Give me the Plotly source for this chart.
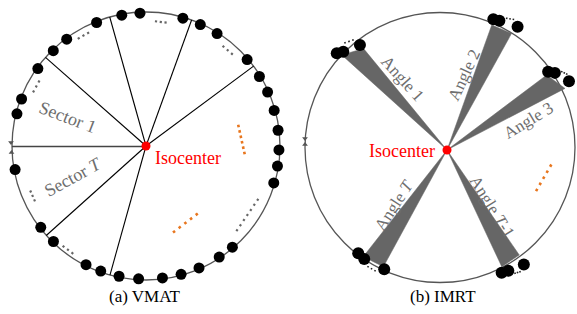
import numpy as np
import plotly.graph_objects as go

W, H = 577, 314
FONT = "Liberation Serif, Times New Roman, serif"

# ---------------- panel (a) VMAT ----------------
VMAT_CENTER = (146.0, 146.0)
VMAT_RADIUS = 134.0
VMAT_DOT_ANGLES = [100.5, 92.6, 73.9, 65.9, 57.7, 40.5, 31.5, 23.9, 15.5, 6.8, -1.7, -8.7, -16.1,
                   -49.5, -56.6, -66.5, -74.7, -82.9, -93.2, -101.7, -109.9, -116.8, -134.1, -142.3,
                   -169.8, 166.0, 159.3, 144.4, 134.2, 126.6, 111.8]
VMAT_SECTOR_LINES = [105.7, 70.1, 36.6, 138.6, -138.1, -105.6]
VMAT_ZERO_LINE = [180.0]
VMAT_GAP_FIRST = [85.4, 122.0, 52.1, 148.9, -158.5, -129.4, -42.8]
VMAT_GAP_LAST = [81.0, 117.1, 47.0, 154.1, -154.0, -124.5, -25.7]
VMAT_GAP_COUNT = [3, 3, 3, 3, 3, 3, 7]
VMAT_GAP_RADIUS = [125, 127, 126, 125, 124, 130, 124]
VMAT_ORANGE_FIRST = [(12.2, 94.6), (-71.9, 90.2)]
VMAT_ORANGE_LAST = [(-4.1, 98.7), (-53.4, 85.1)]
VMAT_ORANGE_COUNT = [6, 5]

# ---------------- panel (b) IMRT ----------------
IMRT_CENTER = (440.0, 147.5)
IMRT_RADIUS = 135.0
IMRT_ISO = (447.0, 150.0)
IMRT_LABELS = ["Angle 1", "Angle 2", "Angle 3", "Angle <i>T</i>-1", "Angle <i>T</i>"]
# wedge end corners (angle deg, radius) around the gantry circle centre
IMRT_WEDGE_A = [(136.7, 135), (67.1, 133), (34.2, 129), (-53.6, 133.6), (-115.4, 132)]
IMRT_WEDGE_B = [(127.7, 125), (57.9, 134.8), (25.3, 138.3), (-62.6, 134.2), (-125.1, 133.4)]
# control-point dots at the end of each beam (angle deg, radius)
IMRT_DOTS = [
    [(137.6, 139.8), (135.3, 136.1), (128.0, 130.0)],
    [(67.4, 138.8), (64.9, 140.0), (57.3, 143.6)],
    [(35.0, 132.0), (33.0, 137.0), (27.2, 145.0)],
    [(-63.8, 139.6), (-61.0, 140.9), (-54.4, 144.0)],
    [(-127.7, 133.7), (-124.2, 134.8), (-114.6, 134.0)],
]
IMRT_ELLIPSIS = [
    [(132.2, 141.4), (129.0, 138.3)],
    [(62.7, 145.4), (60.2, 147.7)],
    [(31.9, 143.4), (30.1, 146.5)],
    [(-59.2, 146.5), (-57.2, 147.7)],
    [(-121.1, 139.3), (-117.8, 139.3)],
]
IMRT_LABEL_POS = [(402.5, 78), (463.8, 75.2), (528.3, 120), (492, 206), (394, 205.5)]
IMRT_LABEL_ROT = [48, -65, -31, 58, -57]
IMRT_ORANGE_FIRST = [(-23.7, 105.6)]
IMRT_ORANGE_LAST = [(-9.3, 112.2)]
IMRT_ORANGE_COUNT = [5]

GRAY = "#666666"
TEXT_GRAY = "#6e6e6e"
CIRCLE = "#555555"
ORANGE = "#E8761E"


def pol(c, ang, r):
    a = np.deg2rad(ang)
    return c[0] + r * np.cos(a), c[1] - r * np.sin(a)


fig = go.Figure()


def dotted(p0, p1, n, d, color):
    p0 = np.array(p0, float)
    p1 = np.array(p1, float)
    L = np.linalg.norm(p1 - p0)
    u = (p1 - p0) / L
    s = L / (n - 1)
    a = p0 - u * d / 2
    b = p1 + u * d / 2
    fig.add_trace(go.Scatter(x=[a[0], b[0]], y=[a[1], b[1]], mode="lines",
                             line=dict(color=color, width=d, dash=f"{d}px,{s - d:.2f}px"),
                             hoverinfo="skip", showlegend=False))


shapes = []
for c, r in [(VMAT_CENTER, VMAT_RADIUS), (IMRT_CENTER, IMRT_RADIUS)]:
    shapes.append(dict(type="circle", xref="x", yref="y", x0=c[0] - r, x1=c[0] + r,
                       y0=c[1] - r, y1=c[1] + r, line=dict(color=CIRCLE, width=1.3), layer="below"))

# --- VMAT sector lines ---
for ang in VMAT_SECTOR_LINES:
    x1, y1 = pol(VMAT_CENTER, ang, VMAT_RADIUS)
    fig.add_trace(go.Scatter(x=[VMAT_CENTER[0], x1], y=[VMAT_CENTER[1], y1], mode="lines",
                             line=dict(color="black", width=1.1), hoverinfo="skip", showlegend=False))
for ang in VMAT_ZERO_LINE:
    x1, y1 = pol(VMAT_CENTER, ang, VMAT_RADIUS)
    fig.add_trace(go.Scatter(x=[VMAT_CENTER[0], x1], y=[VMAT_CENTER[1] + 0.5, y1 + 0.5], mode="lines",
                             line=dict(color="#444444", width=1.5), hoverinfo="skip", showlegend=False))

# gray ellipses
for a0, a1, n, r in zip(VMAT_GAP_FIRST, VMAT_GAP_LAST, VMAT_GAP_COUNT, VMAT_GAP_RADIUS):
    dotted(pol(VMAT_CENTER, a0, r), pol(VMAT_CENTER, a1, r), n, 2.2, GRAY)

# orange ellipses
for (a0, r0), (a1, r1), n in zip(VMAT_ORANGE_FIRST, VMAT_ORANGE_LAST, VMAT_ORANGE_COUNT):
    dotted(pol(VMAT_CENTER, a0, r0), pol(VMAT_CENTER, a1, r1), n, 2.6, ORANGE)
for (a0, r0), (a1, r1), n in zip(IMRT_ORANGE_FIRST, IMRT_ORANGE_LAST, IMRT_ORANGE_COUNT):
    dotted(pol(IMRT_CENTER, a0, r0), pol(IMRT_CENTER, a1, r1), n, 2.6, ORANGE)

# VMAT dots
vx, vy = zip(*[pol(VMAT_CENTER, a, VMAT_RADIUS - 1) for a in VMAT_DOT_ANGLES])
fig.add_trace(go.Scatter(x=vx, y=vy, mode="markers",
                         marker=dict(color="black", size=11, line=dict(width=0)),
                         hoverinfo="skip", showlegend=False))

# --- IMRT wedges ---
dots_x, dots_y = [], []
for wa, wb, dots, ell in zip(IMRT_WEDGE_A, IMRT_WEDGE_B, IMRT_DOTS, IMRT_ELLIPSIS):
    c1 = pol(IMRT_CENTER, *wa)
    c2 = pol(IMRT_CENTER, *wb)
    fig.add_trace(go.Scatter(x=[IMRT_ISO[0], c1[0], c2[0], IMRT_ISO[0]],
                             y=[IMRT_ISO[1], c1[1], c2[1], IMRT_ISO[1]],
                             mode="lines", fill="toself", fillcolor=GRAY,
                             line=dict(color=GRAY, width=0.5), hoverinfo="skip", showlegend=False))
    dotted(pol(IMRT_CENTER, *ell[0]), pol(IMRT_CENTER, *ell[1]), 3, 1.6, "#222222")
    for a, r in dots:
        x, y = pol(IMRT_CENTER, a, r)
        dots_x.append(x)
        dots_y.append(y)
fig.add_trace(go.Scatter(x=dots_x, y=dots_y, mode="markers",
                         marker=dict(color="black", size=12, line=dict(width=0)),
                         hoverinfo="skip", showlegend=False))

# small arrowheads on circles
fig.add_trace(go.Scatter(x=[11, 11.5, 305, 305], y=[142.5, 152.5, 138.5, 144.5], mode="markers",
                         marker=dict(color=CIRCLE, size=5,
                                     symbol=["triangle-down", "triangle-up", "triangle-down", "triangle-up"]),
                         hoverinfo="skip", showlegend=False))

# isocenters
fig.add_trace(go.Scatter(x=[VMAT_CENTER[0], IMRT_ISO[0]], y=[VMAT_CENTER[1], IMRT_ISO[1]], mode="markers",
                         marker=dict(color="#FF0000", size=9, line=dict(width=0)),
                         hoverinfo="skip", showlegend=False))

ann = []
ann.append(dict(x=153, y=158, text="Isocenter", xanchor="left", yanchor="middle",
                font=dict(family=FONT, size=18, color="#FF0000"), showarrow=False))
ann.append(dict(x=437, y=151, text="Isocenter", xanchor="right", yanchor="middle",
                font=dict(family=FONT, size=18, color="#FF0000"), showarrow=False))
ann.append(dict(x=67, y=117, text="Sector 1", textangle=21, xanchor="center", yanchor="middle",
                font=dict(family=FONT, size=18, color=TEXT_GRAY), showarrow=False))
ann.append(dict(x=73, y=177, text="Sector <i>T</i>", textangle=-29, xanchor="center", yanchor="middle",
                font=dict(family=FONT, size=18, color=TEXT_GRAY), showarrow=False))
for t, (x, y), rot in zip(IMRT_LABELS, IMRT_LABEL_POS, IMRT_LABEL_ROT):
    ann.append(dict(x=x, y=y, text=t, textangle=rot, xanchor="center", yanchor="middle",
                    font=dict(family=FONT, size=17, color=TEXT_GRAY), showarrow=False))
ann.append(dict(x=145, y=296, text="(a) VMAT", xanchor="center", yanchor="middle",
                font=dict(family=FONT, size=17, color="black"), showarrow=False))
ann.append(dict(x=443, y=296, text="(b) IMRT", xanchor="center", yanchor="middle",
                font=dict(family=FONT, size=17, color="black"), showarrow=False))

fig.update_layout(
    width=W, height=H, margin=dict(l=0, r=0, t=0, b=0),
    paper_bgcolor="white", plot_bgcolor="white",
    xaxis=dict(range=[0, W], visible=False, fixedrange=True),
    yaxis=dict(range=[H, 0], visible=False, fixedrange=True),
    shapes=shapes, annotations=ann, showlegend=False,
)
fig.write_html("out.html", config={"displayModeBar": False},
               post_script="document.body.style.margin='0';document.body.style.overflow='hidden';")
